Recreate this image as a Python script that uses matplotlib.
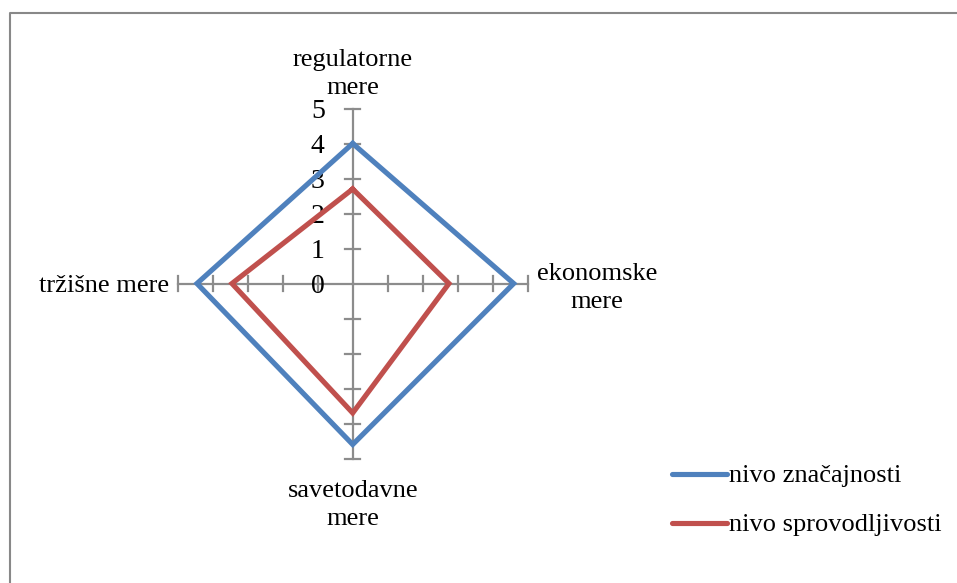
import numpy as np
import matplotlib.pyplot as plt

# categories in Excel radar order (clockwise from top)
kategorije = [['regulatorne', 'mere'], ['ekonomske', 'mere'], ['savetodavne', 'mere'], ['tržišne mere']]
znacajnost = [4.0, 4.6, 4.6, 4.45]
sprovodljivost = [2.7, 2.75, 3.7, 3.45]
serije = ['nivo značajnosti', 'nivo sprovodljivosti']
boje = ['#4F81BD', '#C0504D']
skala = [0, 1, 2, 3, 4, 5]

plt.rcParams['font.family'] = ['Liberation Serif', 'DejaVu Serif']

W, H = 957, 583
fig = plt.figure(figsize=(W / 100, H / 100), dpi=100)
ax = fig.add_axes([0, 0, 1, 1])
# pixel -> data mapping (centre of radar at 352.7, 283.5 px, 35 px per unit)
cx, cy, u = 352.7, 283.5, 35.0
ax.set_xlim(-cx / u, (W - cx) / u)
ax.set_ylim(-(H - cy) / u, cy / u)
ax.axis('off')

# outer chart border
ax.plot([-(cx - 9.5) / u, -(cx - 9.5) / u, (W + 5 - cx) / u],
        [-(H + 5 - cy) / u, (cy - 12.7) / u, (cy - 12.7) / u],
        color='#888888', lw=1.5, clip_on=False)

ugao = np.pi / 2 - np.arange(4) * np.pi / 2
rmax = skala[-1]
siva = '#8C8C8C'
tl = 0.21
for a in ugao:
    dx, dy = np.cos(a), np.sin(a)
    ax.plot([0, rmax * dx], [0, rmax * dy], color=siva, lw=1.6, zorder=1)
    for r in skala[1:]:
        px, py = r * dx, r * dy
        ax.plot([px - tl * dy, px + tl * dy], [py - tl * dx, py + tl * dx],
                color=siva, lw=1.6, zorder=1)

# value labels on the top axis
for r in skala:
    ax.text(-0.8, r - 0.08, str(r), ha='right', va='center', fontsize=20)

for vals, boja, ime in zip([znacajnost, sprovodljivost], boje, serije):
    v = np.array(vals + vals[:1])
    a = np.concatenate([ugao, ugao[:1]])
    ax.plot(v * np.cos(a), v * np.sin(a), color=boja, lw=3.7, zorder=3,
            solid_joinstyle='miter', label=ime)

fs = 19
ls = 1.32
ax.text(0, (cy - 74) / u, '\n'.join(kategorije[0]), ha='center', va='center',
        fontsize=fs, linespacing=ls)
ax.text((597 - cx) / u, (cy - 288) / u, '\n'.join(kategorije[1]), ha='center', va='center',
        fontsize=fs, linespacing=ls)
ax.text(0, (cy - 505) / u, '\n'.join(kategorije[2]), ha='center', va='center',
        fontsize=fs, linespacing=ls)
ax.text((169 - cx) / u, -0.06, kategorije[3][0], ha='right', va='center', fontsize=fs)

# legend drawn by hand to match Excel placement
for i, (ime, boja) in enumerate(zip(serije, boje)):
    y = (cy - (474 + 48.7 * i)) / u
    ax.plot([(672 - cx) / u, (726.5 - cx) / u], [y, y], color=boja, lw=3.7,
            solid_capstyle='round')
    ax.text((729 - cx) / u, y - 0.06, ime, ha='left', va='center', fontsize=fs)

fig.savefig('out.png', dpi=100)
